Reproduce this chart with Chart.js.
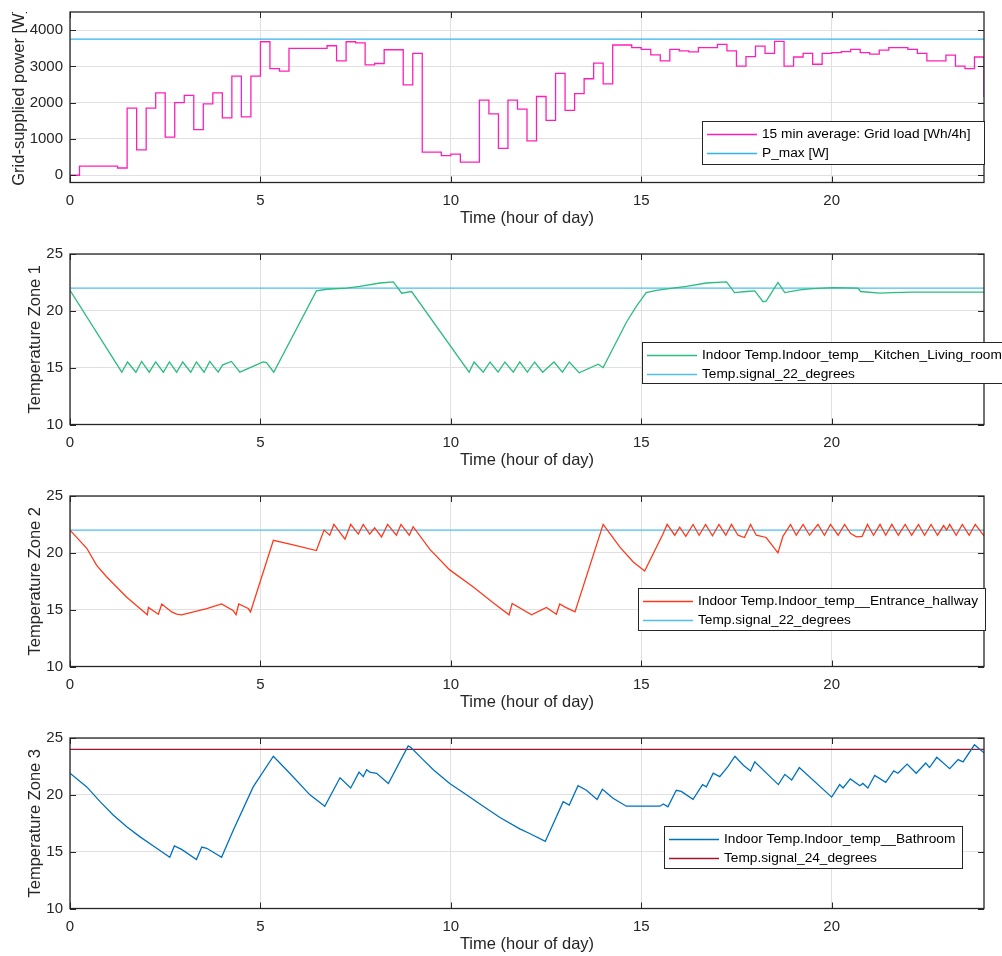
<!DOCTYPE html>
<html>
<head>
<meta charset="utf-8">
<script src="https://cdn.jsdelivr.net/npm/chart.js@4.4.1/dist/chart.umd.min.js"></script>
<style>
  body { margin: 0; background: #fff; width: 1002px; height: 956px; overflow: hidden; position: relative; }
  canvas { position: absolute; left: 0; }
</style>
</head>
<body>
<canvas id="loadChart" width="1002" height="242" style="top:0"></canvas>
<canvas id="zone1Chart" width="1002" height="242" style="top:242px"></canvas>
<canvas id="zone2Chart" width="1002" height="242" style="top:484px"></canvas>
<canvas id="zone3Chart" width="1002" height="242" style="top:726px"></canvas>
<script>
// tick positions
const hourTicks = [0, 5, 10, 15, 20];
const loadTicks = [0, 1000, 2000, 3000, 4000];
const tempTicks = [10, 15, 20, 25];

// 15 min average grid load, value holds from each time until the next one
const loadHours = [0, 0.25, 1.25, 1.5, 1.75, 2, 2.25, 2.5, 2.75, 3, 3.25, 3.5, 3.75, 4, 4.25, 4.5, 4.75,
  5, 5.25, 5.5, 5.75, 6.75, 7, 7.25, 7.5, 7.75, 8, 8.25, 8.75, 9, 9.25, 9.75, 10, 10.25, 10.75,
  11, 11.25, 11.5, 11.75, 12, 12.25, 12.5, 12.75, 13, 13.25, 13.5, 13.75, 14, 14.25, 14.75,
  15, 15.25, 15.5, 15.75, 16, 16.25, 16.5, 17, 17.25, 17.5, 17.75, 18, 18.25, 18.5, 18.75,
  19, 19.25, 19.5, 19.75, 20, 20.25, 20.5, 20.75, 21, 21.25, 21.5, 22, 22.25, 22.5, 23, 23.25, 23.5, 23.75, 24];
const loadWatts = [0, 250, 200, 1850, 700, 1850, 2270, 1050, 2000, 2200, 1260, 1970, 2270, 1580, 2730, 1610, 2730,
  3680, 2940, 2870, 3500, 3570, 3150, 3680, 3650, 3040, 3080, 3460, 2490, 3360, 640, 540, 580, 360, 2070,
  1690, 740, 2070, 1820, 950, 2170, 1510, 2810, 1790, 2250, 2660, 3090, 2520, 3590, 3520,
  3470, 3320, 3150, 3470, 3430, 3400, 3520, 3610, 3430, 3010, 3270, 3560, 3360, 3690, 3010,
  3260, 3360, 3060, 3360, 3380, 3410, 3470, 3380, 3340, 3450, 3520, 3470, 3360, 3150, 3310, 3010, 2940, 3260, 2160];
const pMax = 3750;

// Kitchen / living room
const zone1Hours = [0, 1.36, 1.51, 1.73, 1.88, 2.08, 2.25, 2.45, 2.61, 2.8, 2.96, 3.17, 3.32, 3.52, 3.67, 3.89,
  4.01, 4.24, 4.46, 5.07, 5.16, 5.35, 6.47, 6.74, 7.26, 7.61, 8.14, 8.49, 8.71, 8.97, 10.48, 10.61, 10.85,
  11.03, 11.24, 11.42, 11.64, 11.81, 12.01, 12.2, 12.41, 12.71, 12.93, 13.11, 13.37, 13.87, 14, 14.61, 14.87,
  15.13, 15.4, 15.83, 16.19, 16.71, 17.24, 17.45, 17.76, 17.98, 18.2, 18.28, 18.59, 18.77, 19.16, 19.51,
  20.04, 20.69, 20.76, 21.26, 21.61, 22.13, 24];
const zone1Temp = [21.8, 14.6, 15.5, 14.6, 15.55, 14.6, 15.5, 14.6, 15.5, 14.6, 15.5, 14.6, 15.5, 14.6, 15.55, 14.6,
  15.25, 15.55, 14.6, 15.5, 15.45, 14.6, 21.75, 21.9, 22.0, 22.15, 22.45, 22.55, 21.55, 21.7, 14.6, 15.5, 14.6,
  15.5, 14.6, 15.5, 14.6, 15.5, 14.6, 15.5, 14.6, 15.5, 14.6, 15.5, 14.55, 15.3, 15.0, 19.0, 20.4,
  21.6, 21.8, 22.0, 22.15, 22.45, 22.55, 21.6, 21.7, 21.75, 20.8, 20.85, 22.5, 21.6, 21.85, 21.95,
  22.05, 22.0, 21.7, 21.55, 21.6, 21.65, 21.65];

// Entrance hallway
const zone2Hours = [0, 0.44, 0.7, 0.96, 1.49, 2.03, 2.06, 2.27, 2.32, 2.41, 2.67, 2.8, 2.93, 3.59, 3.98, 4.29,
  4.36, 4.43, 4.68, 4.74, 5.34, 5.86, 6.47, 6.67, 6.82, 6.93, 7.22, 7.37, 7.57, 7.7, 7.87, 8.0, 8.18, 8.34,
  8.57, 8.69, 8.91, 9.01, 9.45, 9.97, 10.59, 11.11, 11.53, 11.61, 12.12, 12.51, 12.77, 12.86, 12.99, 13.26,
  14.0, 14.44, 14.79, 15.09, 15.57, 15.68, 15.88, 16.01, 16.17, 16.36, 16.52, 16.69, 16.87, 17.04, 17.22,
  17.37, 17.54, 17.71, 17.87, 18.02, 18.28, 18.59, 18.72, 18.92, 19.07, 19.25, 19.42, 19.64, 19.81, 19.97,
  20.17, 20.34, 20.5, 20.65, 20.8, 20.94, 21.1, 21.27, 21.42, 21.58, 21.75, 21.93, 22.1, 22.28, 22.44,
  22.61, 22.78, 22.94, 23.02, 23.1, 23.27, 23.43, 23.61, 23.77, 24];
const zone2Temp = [22.0, 20.4, 18.9, 17.9, 16.1, 14.55, 15.2, 14.7, 14.6, 15.5, 14.8, 14.6, 14.55, 15.1, 15.5, 14.9,
  14.55, 15.5, 15.1, 14.8, 21.1, 20.7, 20.2, 22.0, 21.55, 22.5, 21.2, 22.5, 21.65, 22.5, 21.65, 22.2, 21.4, 22.5,
  21.55, 22.5, 21.55, 22.3, 20.3, 18.5, 17.0, 15.6, 14.55, 15.55, 14.55, 15.2, 14.6, 15.5, 15.25, 14.8,
  22.5, 20.5, 19.2, 18.4, 21.65, 22.5, 21.55, 22.25, 21.45, 22.5, 21.55, 22.5, 21.5, 22.5, 21.55,
  22.5, 21.55, 21.35, 22.5, 21.55, 21.35, 20.0, 21.45, 22.5, 21.55, 22.5, 21.55, 22.5, 21.55, 22.5,
  21.55, 22.5, 21.7, 21.4, 21.45, 22.5, 21.55, 22.5, 21.55, 22.5, 21.55, 22.5, 21.55, 22.5, 21.55,
  22.5, 21.55, 22.4, 22.0, 22.5, 21.55, 22.5, 21.55, 22.5, 21.5];

// Bathroom
const zone3Hours = [0, 0.44, 0.79, 1.14, 1.49, 1.84, 2.19, 2.62, 2.74, 2.93, 3.32, 3.46, 3.59, 3.98, 4.29, 4.81,
  5.34, 5.77, 6.3, 6.69, 7.09, 7.37, 7.59, 7.7, 7.79, 7.87, 8.05, 8.36, 8.88, 8.94, 9.27, 9.54, 9.97, 10.41,
  10.85, 11.29, 11.81, 12.07, 12.48, 12.95, 13.11, 13.34, 13.56, 13.84, 13.98, 14.26, 14.61, 15.49, 15.58,
  15.7, 15.92, 16.05, 16.36, 16.61, 16.71, 16.89, 17.06, 17.28, 17.46, 17.68, 17.87, 17.98, 18.6, 18.77,
  18.95, 19.15, 20.0, 20.21, 20.3, 20.49, 20.74, 20.82, 20.95, 21.13, 21.42, 21.63, 21.74, 21.98, 22.22,
  22.47, 22.57, 22.76, 23.1, 23.32, 23.45, 23.75, 23.89, 24];
const zone3Temp = [21.9, 20.7, 19.4, 18.2, 17.2, 16.3, 15.5, 14.5, 15.5, 15.2, 14.3, 15.4, 15.3, 14.5, 16.9, 20.7,
  23.4, 21.9, 20.0, 19.0, 21.5, 20.6, 22.0, 21.6, 22.2, 22.0, 21.9, 21.0, 24.3, 24.2, 23.1, 22.2, 21.0, 20.0,
  19.0, 18.0, 17.0, 16.6, 15.9, 19.4, 19.1, 20.8, 20.4, 19.6, 20.5, 19.7, 19.0, 19.0, 19.2,
  18.95, 20.4, 20.3, 19.6, 20.9, 20.7, 21.9, 21.6, 22.5, 23.4, 22.6, 22.1, 22.9, 20.9, 21.8,
  21.3, 22.4, 19.8, 20.9, 20.6, 21.4, 20.8, 21.0, 20.6, 21.7, 21.1, 22.1, 21.9, 22.7, 21.9,
  22.8, 22.4, 23.3, 22.3, 23.1, 22.9, 24.4, 24.0, 23.7];
const setpoint22 = 22;
const setpoint24 = 24;

const FONT = '"Liberation Sans", Arial, Helvetica, sans-serif';
const AXIS = '#262626';
const GRID = '#e0e0e0';

const points = (xs, ys) => xs.map((x, i) => ({ x: x, y: ys[i] }));
const flat = v => [{ x: 0, y: v }, { x: 24, y: v }];

// box, inward tick marks, axis titles and legend drawn matlab-style
const axesDecor = {
  id: 'axesDecor',
  afterDraw(chart, args, opts) {
    const { ctx, chartArea: a, scales: { x, y } } = chart;
    ctx.save();
    ctx.strokeStyle = AXIS;
    ctx.lineWidth = 1;
    ctx.beginPath();
    x.ticks.forEach(t => {
      const px = Math.round(x.getPixelForValue(t.value)) + 0.5;
      ctx.moveTo(px, a.top); ctx.lineTo(px, a.top + 6);
      ctx.moveTo(px, a.bottom); ctx.lineTo(px, a.bottom - 6);
    });
    y.ticks.forEach(t => {
      const py = Math.round(y.getPixelForValue(t.value)) + 0.5;
      ctx.moveTo(a.left, py); ctx.lineTo(a.left + 6, py);
      ctx.moveTo(a.right, py); ctx.lineTo(a.right - 6, py);
    });
    ctx.stroke();
    ctx.lineWidth = 1.3;
    ctx.strokeRect(a.left, a.top, a.right - a.left, a.bottom - a.top);

    // axis titles
    ctx.fillStyle = AXIS;
    ctx.font = '16.5px ' + FONT;
    ctx.textAlign = 'center';
    ctx.textBaseline = 'middle';
    ctx.fillText(opts.xTitle, (a.left + a.right) / 2, a.bottom + 36);
    ctx.save();
    ctx.beginPath();
    ctx.rect(0, a.top, chart.width, chart.height - a.top);
    ctx.clip();
    ctx.translate(opts.yTitleX, (a.top + a.bottom) / 2);
    ctx.rotate(-Math.PI / 2);
    ctx.fillText(opts.yTitle, 0, 0);
    ctx.restore();

    // legend box
    const b = opts.legend;
    ctx.fillStyle = '#fff';
    ctx.fillRect(b.x, b.y, b.w, b.h);
    ctx.strokeStyle = AXIS;
    ctx.lineWidth = 1;
    ctx.strokeRect(b.x + 0.5, b.y + 0.5, b.w, b.h);
    ctx.font = '13.7px ' + FONT;
    ctx.textAlign = 'left';
    chart.data.datasets.forEach((ds, i) => {
      const cy = b.y + 13.5 + i * 19;
      ctx.strokeStyle = ds.borderColor;
      ctx.lineWidth = 1.5;
      ctx.beginPath();
      ctx.moveTo(b.x + 5, cy); ctx.lineTo(b.x + 55, cy);
      ctx.stroke();
      ctx.fillStyle = '#000';
      ctx.fillText(ds.label, b.x + 60, cy);
    });
    ctx.restore();
  }
};

// keep the plot box fixed: no extra room reserved for the end tick labels
function fixPadding(s) {
  s.paddingTop = 0; s.paddingBottom = 0; s.paddingLeft = 0; s.paddingRight = 0;
}

function makePanel(id, datasets, yMin, yMax, yTicks, yTitle, yTitleX, legend) {
  new Chart(document.getElementById(id).getContext('2d'), {
    type: 'line',
    data: { datasets: datasets },
    options: {
      responsive: false,
      animation: false,
      events: [],
      layout: { padding: { top: 12, right: 18, left: 0, bottom: 0 } },
      elements: { point: { radius: 0 }, line: { borderWidth: 1.3, tension: 0 } },
      plugins: {
        legend: { display: false },
        tooltip: { enabled: false },
        axesDecor: { xTitle: 'Time (hour of day)', yTitle: yTitle, yTitleX: yTitleX, legend: legend }
      },
      scales: {
        x: {
          type: 'linear', min: 0, max: 24,
          afterBuildTicks: s => { s.ticks = hourTicks.map(v => ({ value: v })); },
          afterFit: s => { s.height = 59.5; fixPadding(s); },
          ticks: { color: AXIS, font: { family: FONT, size: 15 }, padding: 9, maxRotation: 0, callback: v => String(v) },
          grid: { color: GRID, drawTicks: false },
          border: { display: false }
        },
        y: {
          type: 'linear', min: yMin, max: yMax,
          afterBuildTicks: s => { s.ticks = yTicks.map(v => ({ value: v })); },
          afterFit: s => { s.width = 70; fixPadding(s); },
          ticks: { color: AXIS, font: { family: FONT, size: 15 }, padding: 7, callback: v => String(v) },
          grid: { color: GRID, drawTicks: false },
          border: { display: false }
        }
      }
    },
    plugins: [axesDecor]
  });
}

makePanel('loadChart', [
  { label: '15 min average: Grid load [Wh/4h]', data: points(loadHours, loadWatts), borderColor: '#ff1fb8', stepped: true },
  { label: 'P_max [W]', data: flat(pMax), borderColor: '#2fb4f0' }
], -200, 4500, loadTicks, 'Grid-supplied power [W]', 19, { x: 702, y: 121, w: 282, h: 43 });

makePanel('zone1Chart', [
  { label: 'Indoor Temp.Indoor_temp__Kitchen_Living_room', data: points(zone1Hours, zone1Temp), borderColor: '#2bbd7e' },
  { label: 'Temp.signal_22_degrees', data: flat(setpoint22), borderColor: '#4dbeee' }
], 10, 25, tempTicks, 'Temperature Zone 1', 35.5, { x: 642, y: 100, w: 400, h: 41 });

makePanel('zone2Chart', [
  { label: 'Indoor Temp.Indoor_temp__Entrance_hallway', data: points(zone2Hours, zone2Temp), borderColor: '#ff3a1c' },
  { label: 'Temp.signal_22_degrees', data: flat(setpoint22), borderColor: '#4dbeee' }
], 10, 25, tempTicks, 'Temperature Zone 2', 35.5, { x: 638, y: 104, w: 347, h: 42 });

makePanel('zone3Chart', [
  { label: 'Indoor Temp.Indoor_temp__Bathroom', data: points(zone3Hours, zone3Temp), borderColor: '#0072bd' },
  { label: 'Temp.signal_24_degrees', data: flat(setpoint24), borderColor: '#a2142f' }
], 10, 25, tempTicks, 'Temperature Zone 3', 35.5, { x: 664, y: 100, w: 298, h: 42 });
</script>
</body>
</html>
